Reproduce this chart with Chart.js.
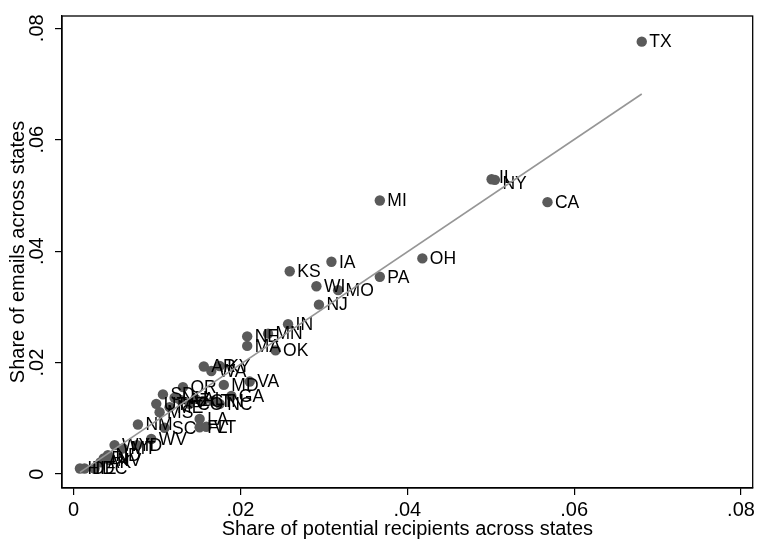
<!DOCTYPE html>
<html>
<head>
<meta charset="utf-8">
<script src="https://cdn.jsdelivr.net/npm/chart.js@4.4.0/dist/chart.umd.min.js"></script>
<style>
  body { margin: 0; background: #fff; }
  #wrap { width: 758px; height: 540px; }
</style>
</head>
<body>
<div id="wrap"><canvas id="emailChart"></canvas></div>
<script>
// states, share of potential recipients (x), share of emails (y)
const states = ['TX','IL','NY','MI','CA','OH','IA','KS','PA','WI','MO','NJ','IN','NE','MN','MA','OK',
  'AR','KY','WA','VA','MD','OR','GA','TN','NC','CO','CT','AL','MS','SD','NH','ME','UT','LA','FL','VT',
  'SC','NM','WV','WY','MT','ID','ND','RI','NV','AK','HI','DE','DC','AZ'];
const recipShare = [0.0681,0.0501,0.0505,0.0367,0.0568,0.0418,0.0309,0.0259,0.0367,0.0291,0.0317,0.0294,0.0257,0.0208,0.0233,0.0208,0.0242,
  0.0156,0.0175,0.0165,0.0211,0.0180,0.0131,0.0189,0.0167,0.0175,0.0139,0.0155,0.0146,0.0103,0.0107,0.0121,0.0115,0.0099,0.0151,0.0151,0.0159,
  0.0109,0.0077,0.0093,0.0049,0.0059,0.0076,0.0041,0.0036,0.0043,0.0032,0.00075,0.0013,0.0025,0.0128];
const emailShare = [0.0776,0.0529,0.0528,0.0491,0.0488,0.0387,0.0381,0.0364,0.0354,0.0337,0.0330,0.0304,0.0269,0.0247,0.0252,0.0230,0.0222,
  0.0193,0.0194,0.0185,0.0166,0.0160,0.0156,0.0140,0.0131,0.0126,0.0126,0.0131,0.0135,0.0111,0.0143,0.0137,0.0120,0.0126,0.0099,0.0084,0.0085,
  0.0083,0.0089,0.0063,0.0052,0.0046,0.0052,0.0034,0.0028,0.0025,0.0021,0.0010,0.0010,0.0010,0.0133];
// fitted line end points
const fitX = [0.00075, 0.0681];
const fitY = [0.0003, 0.0682];
const axisTicks = [0, 0.02, 0.04, 0.06, 0.08];

// small nudges for overlapping labels (pixels)
const labelNudge = { NY: 3, IL: -2 };

const fontFam = '"Liberation Sans", Arial, Helvetica, sans-serif';

function fmt(v) {
  if (Math.abs(v) < 1e-9) return '0';
  return v.toFixed(2).replace(/^0/, '');
}

const pointLabels = {
  id: 'pointLabels',
  afterDatasetDraw(chart, args) {
    if (args.index !== 1) return;
    const ctx = chart.ctx;
    const meta = chart.getDatasetMeta(1);
    ctx.save();
    ctx.font = '17.5px ' + fontFam;
    ctx.fillStyle = '#000';
    ctx.textBaseline = 'middle';
    ctx.textAlign = 'left';
    meta.data.forEach(function(pt, i) {
      const dy = labelNudge[states[i]] || 0;
      ctx.fillText(states[i], pt.x + 7.5, pt.y + 1 + dy);
    });
    ctx.restore();
  }
};

const frame = {
  id: 'frame',
  afterDraw(chart) {
    const a = chart.chartArea;
    const ctx = chart.ctx;
    ctx.save();
    ctx.strokeStyle = '#000';
    ctx.lineWidth = 1.3;
    ctx.strokeRect(a.left, a.top, a.right - a.left, a.bottom - a.top);
    ctx.restore();
  }
};

const pts = recipShare.map(function(x, i) { return { x: x, y: emailShare[i] }; });
const fitPts = fitX.map(function(x, i) { return { x: x, y: fitY[i] }; });

const context = document.getElementById('emailChart');
new Chart(context, {
  type: 'scatter',
  data: {
    datasets: [
      {
        type: 'line',
        data: fitPts,
        borderColor: 'rgb(150,150,150)',
        borderWidth: 1.6,
        pointRadius: 0,
        fill: false
      },
      {
        data: pts,
        backgroundColor: 'rgb(90,90,90)',
        borderColor: 'rgb(90,90,90)',
        borderWidth: 0,
        pointRadius: 5.2
      }
    ]
  },
  options: {
    responsive: true,
    maintainAspectRatio: false,
    animation: false,
    layout: { padding: { top: 11, right: 4, left: 0, bottom: 0 } },
    plugins: { legend: { display: false }, tooltip: { enabled: false } },
    scales: {
      x: {
        type: 'linear',
        min: -0.0014,
        max: 0.0814,
        afterFit(scale) { scale.height = 52; },
        afterBuildTicks(scale) { scale.ticks = axisTicks.map(function(v) { return { value: v }; }); },
        grid: { drawOnChartArea: false, drawTicks: true, tickLength: 7, color: '#000', lineWidth: 1.2 },
        border: { display: true, color: '#000', width: 1.3 },
        ticks: { color: '#000', font: { family: fontFam, size: 20 }, padding: 3, callback: fmt },
        title: { display: true, text: 'Share of potential recipients across states', color: '#000',
                 font: { family: fontFam, size: 20 }, padding: { top: 0, bottom: -1 } }
      },
      y: {
        type: 'linear',
        min: -0.0025,
        max: 0.0822,
        afterFit(scale) { scale.width = 62; },
        afterBuildTicks(scale) { scale.ticks = axisTicks.map(function(v) { return { value: v }; }); },
        grid: { drawOnChartArea: false, drawTicks: true, tickLength: 7, color: '#000', lineWidth: 1.2 },
        border: { display: true, color: '#000', width: 1.3 },
        ticks: { color: '#000', font: { family: fontFam, size: 20 }, padding: 4, minRotation: 90, maxRotation: 90,
                 crossAlign: 'center', callback: fmt },
        title: { display: true, text: 'Share of emails across states', color: '#000',
                 font: { family: fontFam, size: 20 }, padding: { top: 6, bottom: 0 } }
      }
    }
  },
  plugins: [pointLabels, frame]
});
</script>
</body>
</html>
